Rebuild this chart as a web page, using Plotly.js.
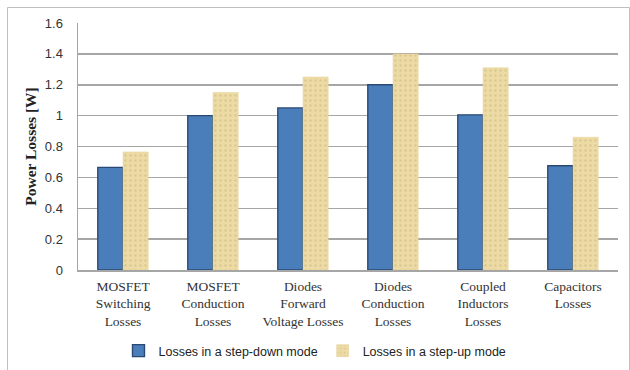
<!DOCTYPE html>
<html>
<head>
<meta charset="utf-8">
<script src="https://cdn.plot.ly/plotly-3.0.1.min.js"></script>
<style>
  html, body { margin: 0; padding: 0; background: #fff; }
  #chart { width: 630px; height: 370px; }
</style>
</head>
<body>
<div id="chart"></div>
<script>
// Loss categories (x axis) and the two operating modes
const categories = [
  'MOSFET<br>Switching<br>Losses',
  'MOSFET<br>Conduction<br>Losses',
  'Diodes<br>Forward<br>Voltage Losses',
  'Diodes<br>Conduction<br>Losses',
  'Coupled<br>Inductors<br>Losses',
  'Capacitors<br>Losses'
];
const stepDownLosses = [0.665, 1.0, 1.05, 1.2, 1.005, 0.675];
const stepUpLosses   = [0.765, 1.15, 1.25, 1.4, 1.31, 0.86];
const seriesNames = ['Losses in a step-down mode', 'Losses in a step-up mode'];
const yTicks = [0, 0.2, 0.4, 0.6, 0.8, 1, 1.2, 1.4, 1.6];

const traces = [
  {
    type: 'bar',
    name: seriesNames[0],
    x: categories,
    y: stepDownLosses,
    marker: {
      color: '#4A7EBB',
      line: { color: '#2A4A74', width: 1.4 }
    },
    hoverinfo: 'y'
  },
  {
    type: 'bar',
    name: seriesNames[1],
    x: categories,
    y: stepUpLosses,
    marker: {
      color: '#ECD9A2',
      line: { color: '#E6D296', width: 0.5 },
      pattern: {
        shape: '.',
        fgcolor: '#DCC78F',
        bgcolor: '#EDDBA6',
        size: 5,
        solidity: 0.18,
        fillmode: 'replace'
      }
    },
    hoverinfo: 'y'
  }
];

// Plot-area geometry in pixels, used to place the outer frame
const W = 630, H = 370, mL = 78, mR = 12, mT = 23, mB = 100;
const pw = W - mL - mR, ph = H - mT - mB;
const px = v => (v - mL) / pw;
const py = v => (H - mB - v) / ph;

const layout = {
  width: W,
  height: H,
  margin: { l: mL, r: mR, t: mT, b: mB, pad: 0 },
  paper_bgcolor: '#ffffff',
  plot_bgcolor: '#ffffff',
  barmode: 'group',
  bargap: 0.44,
  bargroupgap: 0,
  showlegend: true,
  legend: {
    orientation: 'h',
    xref: 'container',
    yref: 'container',
    x: 0.5,
    xanchor: 'center',
    y: (H - 351) / H,
    yanchor: 'middle',
    font: { family: 'Liberation Sans, Arial, sans-serif', size: 12.5, color: '#222' },
    itemwidth: 30,
    tracegroupgap: 0,
    bgcolor: 'rgba(0,0,0,0)'
  },
  xaxis: {
    type: 'category',
    showgrid: false,
    showline: true,
    linecolor: '#A6A6A6',
    linewidth: 1.5,
    ticks: '',
    ticklabelstandoff: 3,
    tickfont: { family: 'Liberation Serif, Times New Roman, serif', size: 13.5, color: '#333' },
    automargin: false
  },
  yaxis: {
    range: [0, 1.6],
    tickvals: yTicks,
    ticktext: yTicks.map(v => String(v)),
    showgrid: true,
    gridcolor: '#A6A6A6',
    gridwidth: 1.5,
    showline: true,
    linecolor: '#A6A6A6',
    linewidth: 1.5,
    zeroline: false,
    ticks: '',
    ticklabelstandoff: 11,
    tickfont: { family: 'Liberation Sans, Arial, sans-serif', size: 13, color: '#333' },
    title: {
      text: '<b>Power Losses [W]</b>',
      font: { family: 'Liberation Serif, Times New Roman, serif', size: 15.5, color: '#222' },
      standoff: 4
    },
    automargin: false
  },
  shapes: [
    {
      type: 'rect',
      xref: 'paper', yref: 'paper',
      x0: px(7.5), x1: px(629.5), y0: py(375), y1: py(7.5),
      line: { color: '#BFBFBF', width: 1 },
      fillcolor: 'rgba(0,0,0,0)',
      layer: 'below'
    }
  ]
};

Plotly.newPlot('chart', traces, layout, { staticPlot: true, displayModeBar: false });
</script>
</body>
</html>
